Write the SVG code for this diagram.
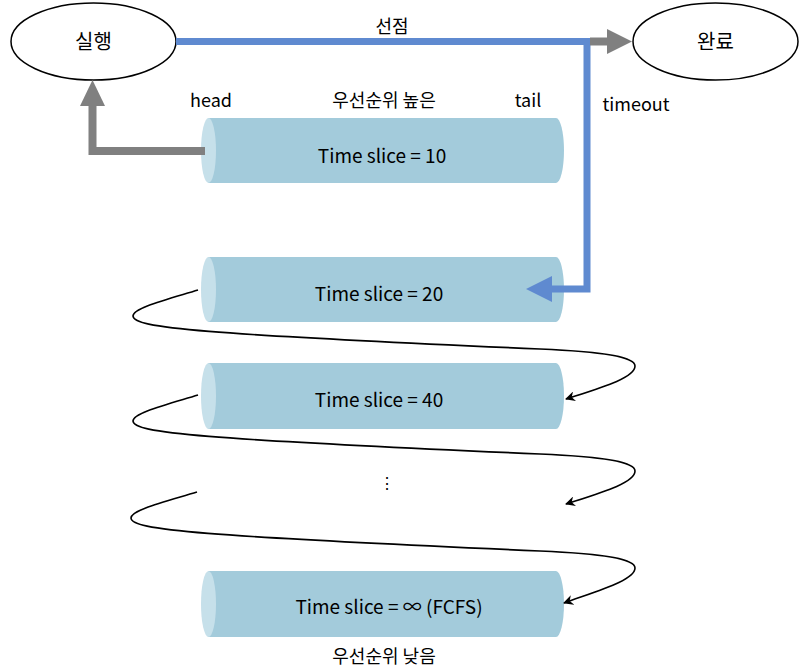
<svg xmlns="http://www.w3.org/2000/svg" width="802" height="672" viewBox="0 0 802 672">
<defs>
<style>
.t{font-family:"Noto Sans CJK KR","Noto Sans",sans-serif;fill:#000;text-anchor:middle}
.body{fill:#a3cbdb}
.cap{fill:#c6e0ea}
.state{fill:#fff;stroke:#000;stroke-width:1.5}
.curve{fill:none;stroke:#000;stroke-width:1.6;marker-end:url(#ah)}
</style>
<marker id="ah" viewBox="0 0 10 10" refX="9" refY="5" markerWidth="10" markerHeight="10" markerUnits="userSpaceOnUse" orient="auto">
<path d="M0,0 L10,5 L0,10 L3,5 Z" fill="#000"/>
</marker>
</defs>
<rect width="802" height="672" fill="#fff"/>
<g id="run">
<ellipse class="state" cx="93.5" cy="41.5" rx="82.5" ry="38.5"/>
<text class="t" x="93.5" y="49" font-size="20">실행</text>
</g>
<g id="done">
<ellipse class="state" cx="715.5" cy="41.5" rx="82.5" ry="38.5"/>
<text class="t" x="715.5" y="49" font-size="20">완료</text>
</g>
<g id="labels">
<text class="t" x="392" y="33" font-size="18">선점</text>
<text class="t" x="211" y="107" font-size="18">head</text>
<text class="t" x="384" y="107" font-size="18">우선순위 높은</text>
<text class="t" x="528" y="107" font-size="18">tail</text>
<text class="t" x="636" y="111" font-size="18">timeout</text>
<text class="t" x="387" y="489" font-size="16">⋮</text>
<text class="t" x="384" y="663" font-size="18">우선순위 낮음</text>
</g>
<g id="q1">
<path class="body" d="M208,118 H556 A8,32.5 0 0 1 556,183 H208 Z"/>
<ellipse class="cap" cx="208.5" cy="150.5" rx="7.5" ry="32.5"/>
<text class="t" x="382" y="163" font-size="19">Time slice = 10</text>
</g>
<g id="q2">
<path class="body" d="M208,257 H556 A8,32.5 0 0 1 556,322 H208 Z"/>
<ellipse class="cap" cx="208.5" cy="289.5" rx="7.5" ry="32.5"/>
<text class="t" x="379" y="301" font-size="19">Time slice = 20</text>
</g>
<g id="q3">
<path class="body" d="M208,363 H556 A8,33 0 0 1 556,429 H208 Z"/>
<ellipse class="cap" cx="208.5" cy="396" rx="7.5" ry="33"/>
<text class="t" x="379" y="407" font-size="19">Time slice = 40</text>
</g>
<g id="q4">
<path class="body" d="M208,571 H556 A8,33 0 0 1 556,637 H208 Z"/>
<ellipse class="cap" cx="208.5" cy="604" rx="7.5" ry="33"/>
<text class="t" x="389" y="614" font-size="19">Time slice = ∞ (FCFS)</text>
</g>
<g id="connectors">
<polyline points="176,41.5 587,41.5 587,289 550,289" fill="none" stroke="#5f8ad0" stroke-width="7"/>
<polygon points="552,276 526,289 552,302" fill="#5f8ad0"/>
<line x1="590" y1="41.5" x2="608" y2="41.5" stroke="#808080" stroke-width="8"/>
<polygon points="607,29 632,41.5 607,54" fill="#808080"/>
<polyline points="205,151 92.5,151 92.5,104" fill="none" stroke="#808080" stroke-width="8"/>
<polygon points="80,106 92.5,80 105,106" fill="#808080"/>
<path class="curve" d="M198,290 C165,300 133,308 133,316 C133,328 200,334 540,349 C610,352 635,358 635,366 C635,378 600,388 566,399"/>
<path class="curve" d="M198,395 C165,405 133,413 133,421 C133,433 200,439 540,454 C610,457 635,463 635,471 C635,483 600,493 566,504"/>
<path class="curve" d="M197,492 C164,502 131,510 131,518 C131,530 200,536 540,551 C610,554 635,560 635,568 C635,580 600,590 564,603"/>
</g>
</svg>
